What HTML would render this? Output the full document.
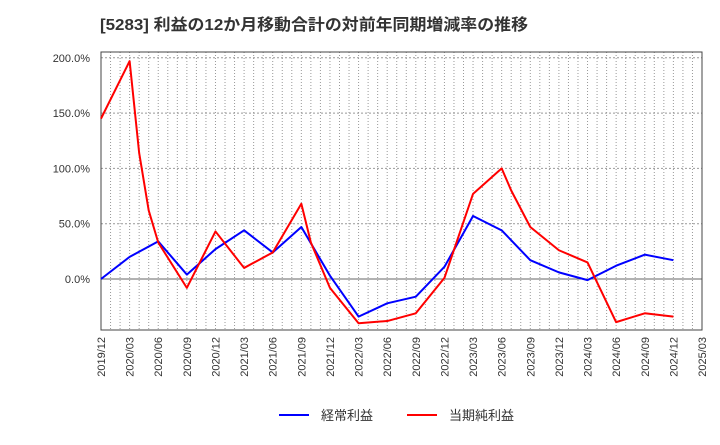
<!DOCTYPE html>
<html><head><meta charset="utf-8"><style>
body{margin:0;background:#fff;font-family:"Liberation Sans","Noto Sans CJK JP",sans-serif;}
</style></head><body>
<svg id="c" width="720" height="440" xmlns="http://www.w3.org/2000/svg" style="font-family:'Liberation Sans','Noto Sans CJK JP',sans-serif">
<text x="100" y="30" font-size="16" font-weight="bold" fill="#333" textLength="428" lengthAdjust="spacingAndGlyphs">[5283]  利益の12か月移動合計の対前年同期増減率の推移</text>
<g id="grid"></g><g id="axes"></g><g id="series"></g>
<g>
<line x1="279" y1="415" x2="309" y2="415" stroke="#0000ff" stroke-width="2"/>
<text x="321" y="420" font-size="13" fill="#333">経常利益</text>
<line x1="407" y1="415" x2="437" y2="415" stroke="#ff0000" stroke-width="2"/>
<text x="449" y="420" font-size="13" fill="#333">当期純利益</text>
</g>
</svg>
<script>
const xLabels=["2019/12","2020/03","2020/06","2020/09","2020/12","2021/03","2021/06","2021/09","2021/12","2022/03","2022/06","2022/09","2022/12","2023/03","2023/06","2023/09","2023/12","2024/03","2024/06","2024/09","2024/12","2025/03"];
const yTicks=[0,50,100,150,200];
const blueMonths=[0,3,6,9,12,15,18,21,24,27,30,33,36,39,42,45,48,51,54,57,60];
const blueValues=[0,20,34,4,27,44,24,47,3,-34,-22,-16,11,57,44,17,6,-1,12,22,17];
const redMonths=[0,3,4,5,6,9,12,15,18,21,22,24,27,30,33,36,39,42,43,45,48,51,54,57,60];
const redValues=[145,197,114,62,33,-8,43,10,24,68,33,-8,-40,-38,-31,1,77,100,80,47,26,15,-39,-31,-34];
const L=101,R=702,T=52,B=330;
const x=m=>L+m*(R-L)/63;
const y=v=>279-v*55.3/50;
const NS="http://www.w3.org/2000/svg";
function mk(tag,attrs,parent){const e=document.createElementNS(NS,tag);for(const k in attrs)e.setAttribute(k,attrs[k]);document.getElementById(parent).appendChild(e);return e;}
for(let m=1;m<63;m++){
 const e=mk("line",{x1:x(m),x2:x(m),y1:T,y2:B,stroke:"#999","stroke-dasharray":"1,2","stroke-width":1},"grid");
 
 
}
yTicks.forEach(v=>{
 const e=mk("line",{x1:L,x2:R,y1:y(v),y2:y(v),stroke:v===0?"#666":"#999","stroke-dasharray":v===0?"none":"2,2","stroke-width":1},"grid");
 
 
 const t=mk("text",{x:90,y:y(v)+4,"text-anchor":"end","font-size":11,fill:"#333"},"axes");
 t.textContent=v.toFixed(1)+"%";
 
 
});
const fr=mk("rect",{x:L,y:T,width:R-L,height:B-T,fill:"none",stroke:"#444","stroke-width":1},"axes");


xLabels.forEach((s,i)=>{
 const xx=x(i*3);
 const t=mk("text",{x:0,y:0,"text-anchor":"end","font-size":11,fill:"#333",transform:`translate(${xx+4},337) rotate(-90)`},"axes");
 t.textContent=s;
 
 
});
function line(ms,vs,color,name){
 const p=mk("polyline",{points:ms.map((m,i)=>x(m)+","+y(vs[i])).join(" "),fill:"none",stroke:color,"stroke-width":2,"stroke-linejoin":"round"},"series");
 
 
}
line(blueMonths,blueValues,"#0000ff","ordinary-profit-line");
line(redMonths,redValues,"#ff0000","net-profit-line");
</script>
</body></html>
